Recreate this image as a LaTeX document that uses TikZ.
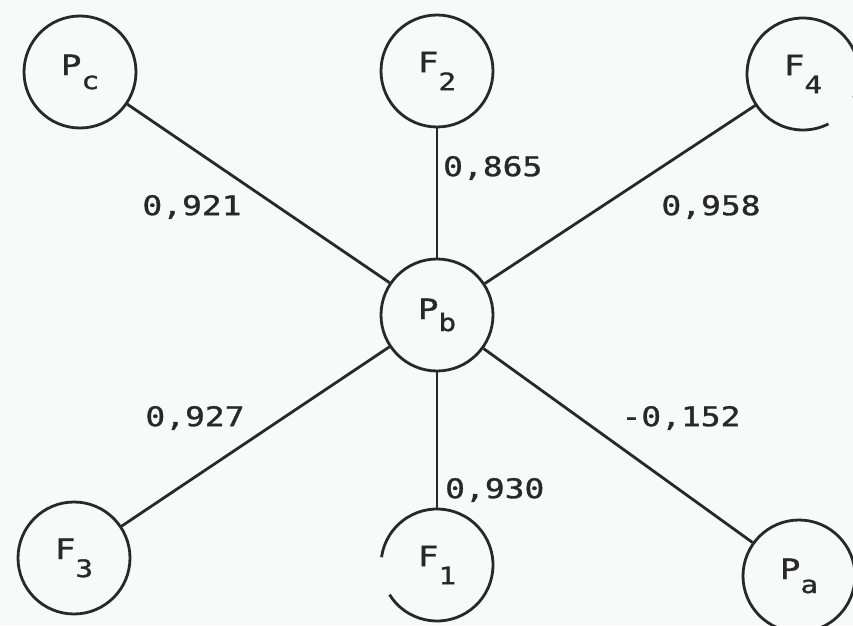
\documentclass[tikz,border=0pt]{standalone}
\usepackage{fontspec}
\newfontfamily\plotfont{DejaVu Sans Mono}[FakeStretch=1.22, FakeBold=1.2]
\definecolor{paper}{RGB}{248,249,249}
\definecolor{inkgray}{RGB}{40,40,40}
% vertex label: letter with a lowered index of nearly the same size
\newcommand\vlabel[3]{{\fontsize{28}{28}\plotfont #1\raisebox{-#3pt}{\fontsize{24}{24}\selectfont #2}}}
\begin{document}
\begin{tikzpicture}[x=1pt,y=1pt,
  ink/.style={draw=inkgray, line width=2.8pt},
  vertex/.style={circle, minimum size=112pt, inner sep=0pt, text=inkgray},
  weight/.style={text=inkgray, inner sep=0pt, font=\fontsize{27}{27}\plotfont}]
  \useasboundingbox (0,0) rectangle (853,625);
  \fill[paper] (0,0) rectangle (853,625);
  \clip (0,0) rectangle (853,625);

  % vertices
  \node[vertex,ink] (pb) at (437,310) {\vlabel{P}{b}{12}};
  \node[vertex,ink] (pc) at (80,553)  {\vlabel{P}{c}{14}};
  \node[vertex,ink] (f2) at (437,554) {\vlabel{F}{2}{18}};
  \node[vertex]     (f4) at (803,551) {\vlabel{F}{4}{18}};
  \node[vertex,ink] (f3) at (74,67)   {\vlabel{F}{3}{18}};
  \node[vertex]     (f1) at (437,60)  {\vlabel{F}{1}{18}};
  \node[vertex,ink] (pa) at (799,49)  {\vlabel{P}{a}{14}};

  % open outlines of F4 and F1
  \draw[ink] ([shift={(-25:56pt)}]f4.center) arc[start angle=-25, end angle=297, radius=56pt];
  \draw[ink] ([shift={(212:56pt)}]f1.center) arc[start angle=212, end angle=532, radius=56pt];

  % spokes from the hub
  \draw[ink] (pb) -- (pc);
  \draw[ink] (pb) -- (f2);
  \draw[ink] (pb) -- (f4);
  \draw[ink] (pb) -- (f3);
  \draw[ink] (pb) -- (f1);
  \draw[ink] (pb) -- (pa);

  % correlation weights
  \node[weight] (wpc) at (192,418) {0,921};
  \node[weight, anchor=west] (wf2) at (443,457) {0,865};
  \node[weight] (wf4) at (711,418) {0,958};
  \node[weight] (wf3) at (195,207) {0,927};
  \node[weight, anchor=west] (wf1) at (445,135) {0,930};
  \node[weight] (wpa) at (681,207) {-0,152};
\end{tikzpicture}
\end{document}
